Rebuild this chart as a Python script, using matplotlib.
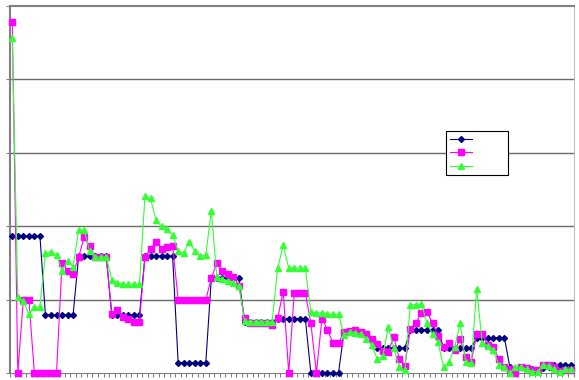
import numpy as np
import matplotlib.pyplot as plt
from matplotlib.lines import Line2D

# three series (units = gridline steps)
serie_a = [1.87]*6 + [0.79]*6 + [1.59]*6 + [0.79]*6 + [1.59]*6 + [0.14]*6 + \
    [1.29]*6 + [0.70]*6 + [0.74]*6 + [0.0]*6 + \
    [0.56, 0.57, 0.58, 0.55, 0.52, 0.45] + [0.34]*6 + [0.59]*6 + [0.34]*6 + [0.48]*6 + \
    [0.08, 0.05, 0.08, 0.06, 0.05, 0.04, 0.07, 0.08, 0.11, 0.11, 0.11, 0.11]

serie_b = [4.78, 0, 1.0, 1.0, 0, 0, 0, 0, 0,
           1.5, 1.39, 1.35, 1.58, 1.85, 1.73, 1.58, 1.58, 1.58,
           0.8, 0.86, 0.76, 0.73, 0.7, 0.7,
           1.58, 1.69, 1.79, 1.69, 1.72, 1.73,
           1.0, 1.0, 1.0, 1.0, 1.0, 1.0,
           1.29, 1.5, 1.39, 1.35, 1.31, 1.19,
           0.75, 0.68, 0.68, 0.68, 0.68, 0.65,
           0.75, 1.11, 0, 1.09, 1.09, 1.09, 0.68, 0, 0.74, 0.59, 0.41, 0.41,
           0.56, 0.57, 0.59, 0.56, 0.53, 0.46, 0.4, 0.3, 0.29, 0.49, 0.19, 0.1,
           0.6, 0.68, 0.82, 0.83,
           0.68, 0.5, 0.36, 0.41, 0.31, 0.46, 0.22, 0.15, 0.53, 0.53, 0.38, 0.36,
           0.19, 0.08, 0.05, 0.0, 0.08, 0.07, 0.04, 0.04, 0.11, 0.11, 0.08, 0.03, 0.04, 0.04]

serie_c = [4.56, 1.03, 0.98, 0.8, 0.9, 0.9,
           1.63, 1.65, 1.61, 1.39, 1.53, 1.45, 1.95, 1.95, 1.66, 1.58, 1.58, 1.58,
           1.27, 1.23, 1.21, 1.21, 1.21, 1.21,
           2.41, 2.38, 2.08, 2.0, 1.96, 1.88, 1.66, 1.63, 1.79, 1.66, 1.59, 1.61,
           2.21, 1.31, 1.28, 1.26, 1.23, 1.19,
           0.71, 0.7, 0.7, 0.7, 0.7, 0.7,
           1.43, 1.74, 1.43, 1.43, 1.43, 1.43,
           0.83, 0.82, 0.82, 0.81, 0.8, 0.8,
           0.52, 0.56, 0.55, 0.53, 0.47, 0.38, 0.19, 0.23, 0.62, 0.34, 0.08, 0.04,
           0.93, 0.93, 0.94, 0.68,
           0.53, 0.42, 0.08, 0.15, 0.35, 0.68, 0.15, 0.13, 1.14, 0.41, 0.37, 0.31,
           0.11, 0.08, 0.0, 0.08, 0.08, 0.05, 0.02, 0.02, 0.11, 0.1, 0.05, 0.02, 0.05, 0.05]

n = len(serie_a)
x = np.arange(n)

fig = plt.figure(figsize=(5.79, 3.80), dpi=100)
ax = fig.add_axes([9.5/579, 7/380, 564/579, 367/380])

gris = '#808080'
for v in range(1, 5):
    ax.axhline(v, color='#6a6a6a', lw=1, zorder=1)

ax.plot(x, serie_a, color='#000080', marker='D', ms=3, lw=0.8, clip_on=False, zorder=3)
ax.plot(x, serie_b, color='#ff00ff', marker='s', ms=3.8, lw=0.8, clip_on=False, zorder=4)
ax.plot(x, serie_c, color='#33ff33', marker='^', ms=3.8, lw=0.8, clip_on=False, zorder=5)

ax.set_xlim(-0.5, n - 0.5)
ax.set_ylim(0, 5)
ax.set_xticks(np.arange(-0.5, n, 1))
ax.set_yticks(range(0, 6))
ax.set_xticklabels([])
ax.set_yticklabels([])
ax.tick_params(axis='both', direction='out', length=3, width=0.8, color=gris)
for s in ax.spines.values():
    s.set_color(gris)
ax.spines['left'].set_linewidth(1.5)
ax.spines['top'].set_linewidth(1.5)
ax.spines['right'].set_color('#c0c0c0')

h = [Line2D([], [], color='#000080', marker='D', ms=3, lw=0.8),
     Line2D([], [], color='#ff00ff', marker='s', ms=3.8, lw=0.8),
     Line2D([], [], color='#33ff33', marker='^', ms=3.8, lw=0.8)]
leg = ax.legend(h, ['         ']*3, loc='upper left', bbox_to_anchor=(446/579, 1-131/380),
                bbox_transform=fig.transFigure, fontsize=8, handlelength=2.0,
                borderpad=0.35, labelspacing=0.3, handletextpad=0.0,
                borderaxespad=0, fancybox=False, framealpha=1, edgecolor='black')
leg.get_frame().set_linewidth(0.8)

plt.savefig('out.png')
